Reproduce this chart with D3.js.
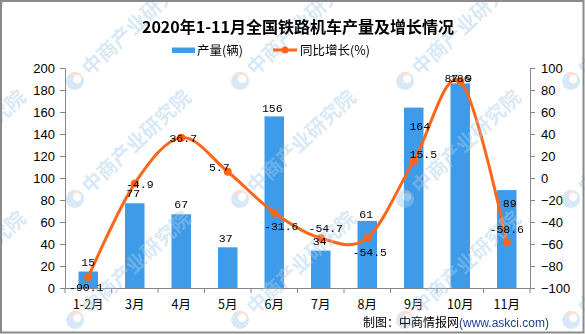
<!DOCTYPE html>
<html><head><meta charset="utf-8">
<script src="https://cdn.jsdelivr.net/npm/d3@7"></script>
<style>html,body{margin:0;padding:0;background:#fff;}svg{display:block;}</style>
</head><body>
<script>
// ---- data ----
const categories = ["1-2月","3月","4月","5月","6月","7月","8月","9月","10月","11月"];
const production = [15,77,67,37,156,34,61,164,186,89];
const growth = [-90.1,-4.9,36.7,5.7,-31.6,-54.7,-54.5,15.5,87.9,-58.6];
const leftTicks = [0,20,40,60,80,100,120,140,160,180,200];
const rightTicks = [-100,-80,-60,-40,-20,0,20,40,60,80,100];
const titleText = "2020年1-11月全国铁路机车产量及增长情况";
const seriesNames = ["产量(辆)","同比增长(%)"];

// ---- layout (label nudges, px) ----
const barLabelNudge = [[0,-5.5],[-1.5,-6],[0,-6],[-2,-5],[-2,-4.7],[-1,-5.6],[-1,-3],[6,22.4],[0,-1.5],[3,17]];
const lineLabelNudge = [[-2,14],[5,5],[2,4.7],[-8.5,-1],[7,17],[5,-6],[2.5,17.7],[9.6,-3],[-2,1],[0,-9]];

const W=585,H=334;
const M={l:65,r:530,t:68,b:288};
const barColor="#3d9be9", lineColor="#ff6619";

const svg=d3.select("body").append("svg").attr("width",W).attr("height",H);
svg.append("rect").attr("width",W).attr("height",H).attr("fill","#fff");

const x=d3.scaleBand().domain(categories).range([M.l,M.r]).paddingInner(0.58).paddingOuter(0.29);
const xc=d3.scaleBand().domain(categories).range([M.l,M.r]);
const yL=d3.scaleLinear().domain([0,200]).range([M.b,M.t]);
const yR=d3.scaleLinear().domain([-100,100]).range([M.b,M.t]);

// bars
svg.append("g").selectAll("rect").data(production).join("rect")
  .attr("x",(d,i)=>xc(categories[i])+xc.bandwidth()/2-9.75)
  .attr("width",19.5)
  .attr("y",d=>yL(d)).attr("height",d=>yL(0)-yL(d)).attr("fill",barColor);

// axes
const axisColor="#868686";
const gL=svg.append("g").attr("transform",`translate(${M.l},0)`)
  .call(d3.axisLeft(yL).tickValues(leftTicks).tickSize(5).tickPadding(5));
const gR=svg.append("g").attr("transform",`translate(${M.r},0)`)
  .call(d3.axisRight(yR).tickValues(rightTicks).tickSize(5).tickPadding(6));
const gX=svg.append("g").attr("transform",`translate(0,${M.b})`)
  .call(d3.axisBottom(xc).tickSize(0).tickPadding(12));
// boundary ticks for x
svg.append("g").selectAll("line").data(d3.range(categories.length+1)).join("line")
  .attr("x1",i=>M.l+i*xc.step()).attr("x2",i=>M.l+i*xc.step())
  .attr("y1",M.b).attr("y2",M.b+5).attr("stroke",axisColor);
[gL,gR,gX].forEach(g=>{
  g.selectAll("path,line").attr("stroke",axisColor);
  g.selectAll("text").attr("fill","#000").style("font-family","'Liberation Sans',Arial,sans-serif").style("font-size","13px");
});
gX.select(".domain").attr("d",`M${M.l},0.5H${M.r}`);
gX.selectAll("text").style("font-family","'Noto Sans CJK SC','Liberation Sans',sans-serif").style("font-size","12.5px");

// line
const pts=growth.map((g,i)=>[xc(categories[i])+xc.bandwidth()/2,yR(g)]);
svg.append("path").attr("d",d3.line().curve(d3.curveCardinal.tension(0))(pts))
  .attr("fill","none").attr("stroke",lineColor).attr("stroke-width",3);
svg.append("g").selectAll("circle").data(pts).join("circle")
  .attr("cx",d=>d[0]).attr("cy",d=>d[1]).attr("r",4).attr("fill",lineColor);

// watermarks
const wm=svg.append("g").attr("opacity",0.45);
const wmX=[-90,75,240,405,571], wmY=[81,199,320];
wmY.forEach(yy=>wmX.forEach(xx=>{
  const g=wm.append("g").attr("transform",`translate(${xx},${yy}) rotate(-43)`);
  g.append("circle").attr("r",9).attr("fill","#a8cbea");
  g.append("path").attr("d",d3.arc()({innerRadius:0,outerRadius:9,startAngle:0.2,endAngle:1.7})).attr("fill","#f2b7a0");
  g.append("circle").attr("cx",3).attr("r",4.2).attr("fill","#fff");
  g.append("text").attr("x",14).attr("y",7).text("中商产业研究院")
    .attr("fill","#a8cbea").style("font-family","'Noto Sans CJK SC',sans-serif").style("font-size","20px").style("font-weight","700");
}));

// labels
const lblFont="'Liberation Mono','DejaVu Sans Mono',monospace";
svg.append("g").selectAll("text").data(production).join("text")
  .attr("x",(d,i)=>xc(categories[i])+xc.bandwidth()/2+barLabelNudge[i][0])
  .attr("y",(d,i)=>yL(d)+barLabelNudge[i][1])
  .attr("text-anchor","middle").style("font-family",lblFont).style("font-size","11.5px").text(d=>d);
svg.append("g").selectAll("text").data(growth).join("text")
  .attr("x",(d,i)=>pts[i][0]+lineLabelNudge[i][0])
  .attr("y",(d,i)=>pts[i][1]+lineLabelNudge[i][1])
  .attr("text-anchor","middle").style("font-family",lblFont).style("font-size","11.5px").text(d=>d);

// title
svg.append("text").attr("x",298).attr("y",33).attr("text-anchor","middle")
  .style("font-family","'Noto Sans CJK SC',sans-serif").style("font-size","16px").style("font-weight","700").text(titleText);

// legend
const cjk="'Noto Sans CJK SC',sans-serif";
svg.append("rect").attr("x",172).attr("y",47.5).attr("width",23).attr("height",5.5).attr("fill",barColor);
svg.append("text").attr("x",197).attr("y",55).style("font-family",cjk).style("font-size","12.5px").text(seriesNames[0]);
svg.append("line").attr("x1",273).attr("x2",297).attr("y1",50).attr("y2",50).attr("stroke",lineColor).attr("stroke-width",3);
svg.append("circle").attr("cx",285).attr("cy",50).attr("r",3.5).attr("fill",lineColor);
svg.append("text").attr("x",300).attr("y",55).style("font-family",cjk).style("font-size","12.5px").text(seriesNames[1]);

// footer
const ft=svg.append("text").attr("x",363).attr("y",327).style("font-size","12px");
ft.append("tspan").style("font-family",cjk).attr("fill","#000").text("制图：中商情报网");
ft.append("tspan").style("font-family","'Liberation Sans',Arial,sans-serif").attr("fill","#1f3f8f").text("(www.askci.com)");

// border
svg.append("rect").attr("x",1).attr("y",1).attr("width",W-2.5).attr("height",H-2.5)
  .attr("fill","none").attr("stroke","#8a8a8a").attr("stroke-width",2);
</script>
</body></html>
